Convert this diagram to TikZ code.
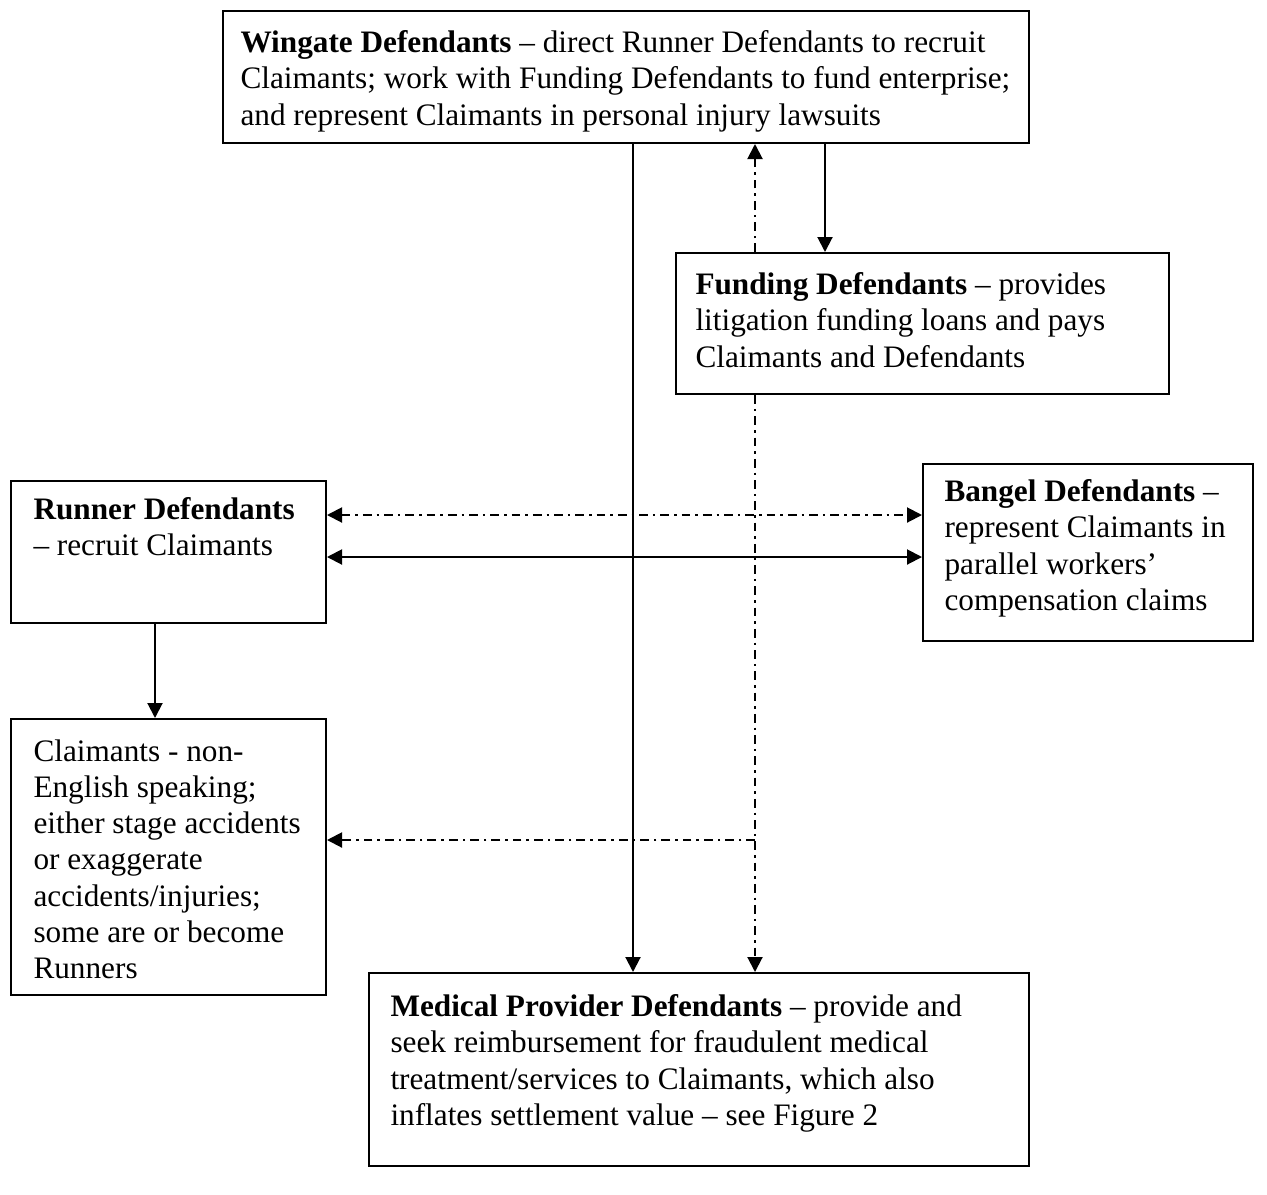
\documentclass[tikz,border=0pt]{standalone}
\usepackage{fontspec}
\setmainfont{Liberation Serif}
\usetikzlibrary{arrows.meta}
\begin{document}
\begin{tikzpicture}[x=0.4pt,y=-0.4pt,
  box/.style={draw, line width=0.8pt, inner sep=0pt, anchor=north west},
  txt/.style={anchor=north west, inner sep=0pt, align=left, font=\fontsize{12.5}{14.5}\selectfont},
  con/.style={line width=0.8pt, -{Triangle[length=6pt,width=6pt]}},
  dcon/.style={con, dash pattern=on 3.5pt off 2pt on 1pt off 2pt},
  both/.style={line width=0.8pt, {Triangle[length=6pt,width=6pt]}-{Triangle[length=6pt,width=6pt]}},
  dboth/.style={both, dash pattern=on 3.5pt off 2pt on 1pt off 2pt}]
\useasboundingbox (0,0) rectangle (1267,1194);
% boxes
\node[box, minimum width=806*0.4pt, minimum height=132*0.4pt] (w) at (222,10) {};
\node[box, minimum width=493*0.4pt, minimum height=141*0.4pt] (f) at (675,252) {};
\node[box, minimum width=315*0.4pt, minimum height=142*0.4pt] (r) at (10,480) {};
\node[box, minimum width=330*0.4pt, minimum height=177*0.4pt] (b) at (922,463) {};
\node[box, minimum width=315*0.4pt, minimum height=276*0.4pt] (c) at (10,718) {};
\node[box, minimum width=660*0.4pt, minimum height=193*0.4pt] (m) at (368,972) {};
% texts
\node[txt] (wt) at (240,30) {\textbf{Wingate Defendants} – direct Runner Defendants to recruit\\Claimants; work with Funding Defendants to fund enterprise;\\and represent Claimants in personal injury lawsuits};
\node[txt] (ft) at (695,272) {\textbf{Funding Defendants} – provides\\litigation funding loans and pays\\Claimants and Defendants};
\node[txt] (rt) at (33,497) {\textbf{Runner Defendants}\\– recruit Claimants};
\node[txt] (bt) at (944,479) {\textbf{Bangel Defendants} –\\represent Claimants in\\parallel workers’\\compensation claims};
\node[txt] (ct) at (33,739) {Claimants - non-\\English speaking;\\either stage accidents\\or exaggerate\\accidents/injuries;\\some are or become\\Runners};
\node[txt] (mt) at (390,994) {\textbf{Medical Provider Defendants} – provide and\\seek reimbursement for fraudulent medical\\treatment/services to Claimants, which also\\inflates settlement value – see Figure 2};
% reference coordinates
\coordinate (xa) at (633,0);
\coordinate (xb) at (755,0);
\coordinate (xc) at (825,0);
\coordinate (xd) at (155,0);
\coordinate (ya) at (0,515);
\coordinate (yb) at (0,557);
\coordinate (br) at (755,840);
% connectors
\draw[con] (w.south -| xa) -- (m.north -| xa);
\draw[dcon] (f.north -| xb) -- (w.south -| xb);
\draw[con] (w.south -| xc) -- (f.north -| xc);
\draw[dcon] (f.south -| xb) -- (m.north -| xb);
\draw[dcon] (br) -- (c.east |- br);
\draw[dboth] (r.east |- ya) -- (b.west |- ya);
\draw[both] (r.east |- yb) -- (b.west |- yb);
\draw[con] (r.south -| xd) -- (c.north -| xd);
\end{tikzpicture}
\end{document}
